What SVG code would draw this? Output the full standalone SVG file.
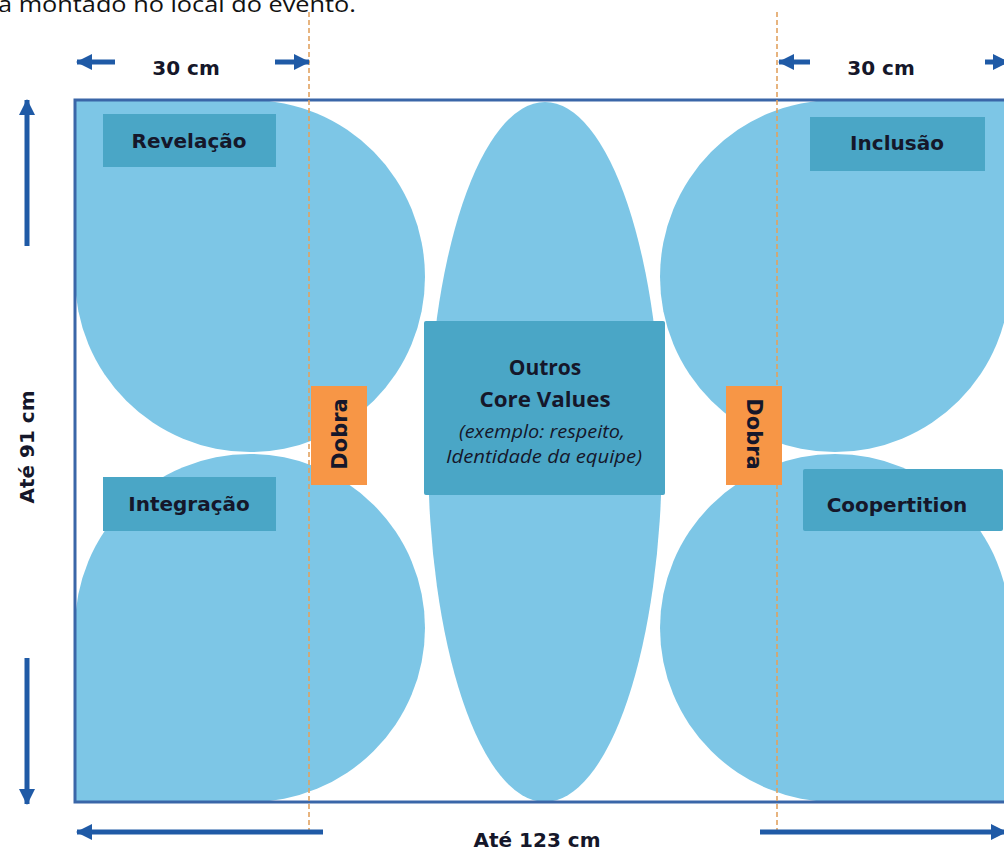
<svg xmlns="http://www.w3.org/2000/svg" width="1004" height="851" viewBox="0 0 1004 851">
<style>
.shape{fill:#7DC6E6}
.lbl{fill:#4AA6C6}
.dobra{fill:#F79646}
.t{font-family:"DejaVu Sans","Liberation Sans",sans-serif;font-weight:bold;fill:#15172A;text-anchor:middle}
.c{font-family:"Open Sans","Liberation Sans",sans-serif;fill:#15172A;text-anchor:middle}
.arr{stroke:#1F5AA6;stroke-width:5;fill:none}
.fold{stroke:#E2A260;stroke-width:1.6;stroke-dasharray:5 3;fill:none}
</style>
<defs>
<marker id="ah" markerUnits="userSpaceOnUse" markerWidth="16" markerHeight="16" viewBox="0 0 16 16" refX="15" refY="8" orient="auto">
<path d="M0,0 L16,8 L0,16 Z" fill="#1F5AA6"/>
</marker>
</defs>
<rect width="1004" height="851" fill="#fff"/>
<text x="-2" y="12" font-family="'Open Sans','Liberation Sans',sans-serif" font-size="22" fill="#111" textLength="358" lengthAdjust="spacingAndGlyphs">a montado no local do evento.</text>

<g id="shapes">
<path id="shape-tl" class="shape" d="M75,100 H250 A175,177 0 0 1 425,277 A175,175 0 0 1 250,452 A175,175 0 0 1 75,277 Z"/>
<path id="shape-bl" class="shape" d="M75,802 H250 A175,174 0 0 0 425,628 A175,174 0 0 0 250,454 A175,174 0 0 0 75,628 Z"/>
<path id="shape-tr" class="shape" d="M1010,100 H835 A175,177 0 0 0 660,277 A175,175 0 0 0 835,452 A175,175 0 0 0 1010,277 Z"/>
<path id="shape-br" class="shape" d="M1010,802 H835 A175,174 0 0 1 660,628 A175,174 0 0 1 835,454 A175,174 0 0 1 1010,628 Z"/>
<ellipse id="shape-center" class="shape" cx="545" cy="452" rx="117" ry="350"/>
</g>

<rect id="board" x="75" y="100" width="940" height="702" fill="none" stroke="#3A66A8" stroke-width="3"/>

<g id="connectors">
<line class="fold" x1="309" y1="12" x2="309" y2="832"/>
<line class="fold" x1="777" y1="12" x2="777" y2="832"/>
<line class="arr" x1="115" y1="62" x2="77" y2="62" marker-end="url(#ah)"/>
<line class="arr" x1="275" y1="62" x2="309" y2="62" marker-end="url(#ah)"/>
<line class="arr" x1="810" y1="62" x2="779" y2="62" marker-end="url(#ah)"/>
<line class="arr" x1="985" y1="62" x2="1008" y2="62" marker-end="url(#ah)"/>
<line class="arr" x1="27" y1="246" x2="27" y2="100" marker-end="url(#ah)"/>
<line class="arr" x1="27" y1="658" x2="27" y2="804" marker-end="url(#ah)"/>
<line class="arr" x1="323" y1="832" x2="77" y2="832" marker-end="url(#ah)"/>
<line class="arr" x1="760" y1="832" x2="1006" y2="832" marker-end="url(#ah)"/>
</g>

<g id="dim-top-left"><text class="t" x="186" y="75" font-size="20">30 cm</text></g>
<g id="dim-top-right"><text class="t" x="881" y="75" font-size="20">30 cm</text></g>
<g id="dim-height"><text class="t" font-size="20" transform="translate(34,447) rotate(-90)">Até 91 cm</text></g>
<g id="dim-width"><text class="t" x="537" y="847" font-size="20">Até 123 cm</text></g>

<g id="revelacao"><rect class="lbl" x="103" y="114" width="173" height="53"/><text class="t" x="189" y="148" font-size="20">Revelação</text></g>
<g id="inclusao"><rect class="lbl" x="810" y="117" width="175" height="54"/><text class="t" x="897" y="150" font-size="20">Inclusão</text></g>
<g id="integracao"><rect class="lbl" x="103" y="477" width="173" height="54"/><text class="t" x="189" y="511" font-size="20">Integração</text></g>
<g id="coopertition"><rect class="lbl" x="803" y="469" width="200" height="62" rx="2"/><text class="t" x="897" y="512" font-size="20">Coopertition</text></g>

<g id="core-values">
<rect class="lbl" x="424" y="321" width="241" height="174" rx="2"/>
<text class="c" x="545" y="375" font-size="21" font-weight="bold">Outros</text>
<text class="c" x="545" y="407" font-size="21" font-weight="bold" textLength="131" lengthAdjust="spacingAndGlyphs">Core Values</text>
<text class="c" x="542" y="438" font-size="18" font-style="italic" textLength="166" lengthAdjust="spacingAndGlyphs">(exemplo: respeito,</text>
<text class="c" x="544" y="463" font-size="18" font-style="italic" textLength="196" lengthAdjust="spacingAndGlyphs">Identidade da equipe)</text>
</g>

<g id="dobra-left"><rect class="dobra" x="311" y="386" width="56" height="99"/><text class="t" font-size="21" transform="translate(347,434) rotate(-90)">Dobra</text></g>
<g id="dobra-right"><rect class="dobra" x="726" y="386" width="56" height="99"/><text class="t" font-size="21" transform="translate(747,434) rotate(90)">Dobra</text></g>
</svg>
